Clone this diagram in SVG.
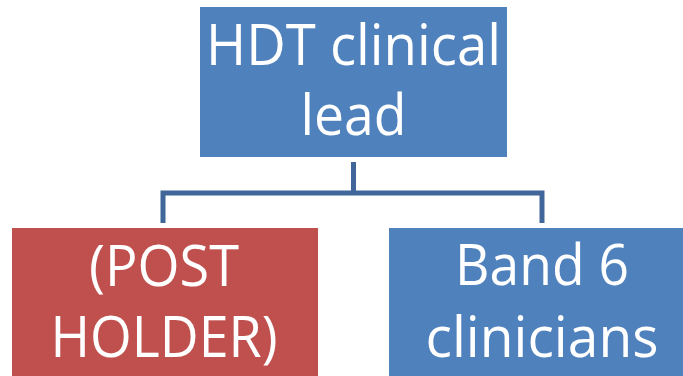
<svg xmlns="http://www.w3.org/2000/svg" width="683" height="376" viewBox="0 0 683 376">
<style>
.t{font-family:"Open Sans","Liberation Sans",sans-serif;font-size:56px;fill:#fff;text-anchor:middle}
.c{fill:none;stroke:#41679A;stroke-width:5}
</style>
<rect width="683" height="376" fill="#fff"/>
<g id="connectors">
<path class="c" d="M353.5,162V193M163,223V193H542V223"/>
</g>
<g id="top">
<rect x="200" y="7" width="307" height="150" fill="#4F81BD"/>
<text class="t" x="353.5" y="65" textLength="295" lengthAdjust="spacingAndGlyphs">HDT clinical</text>
<text class="t" x="353.5" y="135" textLength="106" lengthAdjust="spacingAndGlyphs">lead</text>
</g>
<g id="left">
<rect x="12" y="228" width="306" height="160" fill="#C0504D"/>
<text class="t" x="164" y="286" textLength="150" lengthAdjust="spacingAndGlyphs">(POST</text>
<text class="t" x="164" y="357" textLength="227" lengthAdjust="spacingAndGlyphs">HOLDER)</text>
</g>
<g id="right">
<rect x="389" y="228" width="306" height="160" fill="#4F81BD"/>
<text class="t" x="542" y="285" textLength="174" lengthAdjust="spacingAndGlyphs">Band 6</text>
<text class="t" x="542" y="357" textLength="233" lengthAdjust="spacingAndGlyphs">clinicians</text>
</g>
</svg>
